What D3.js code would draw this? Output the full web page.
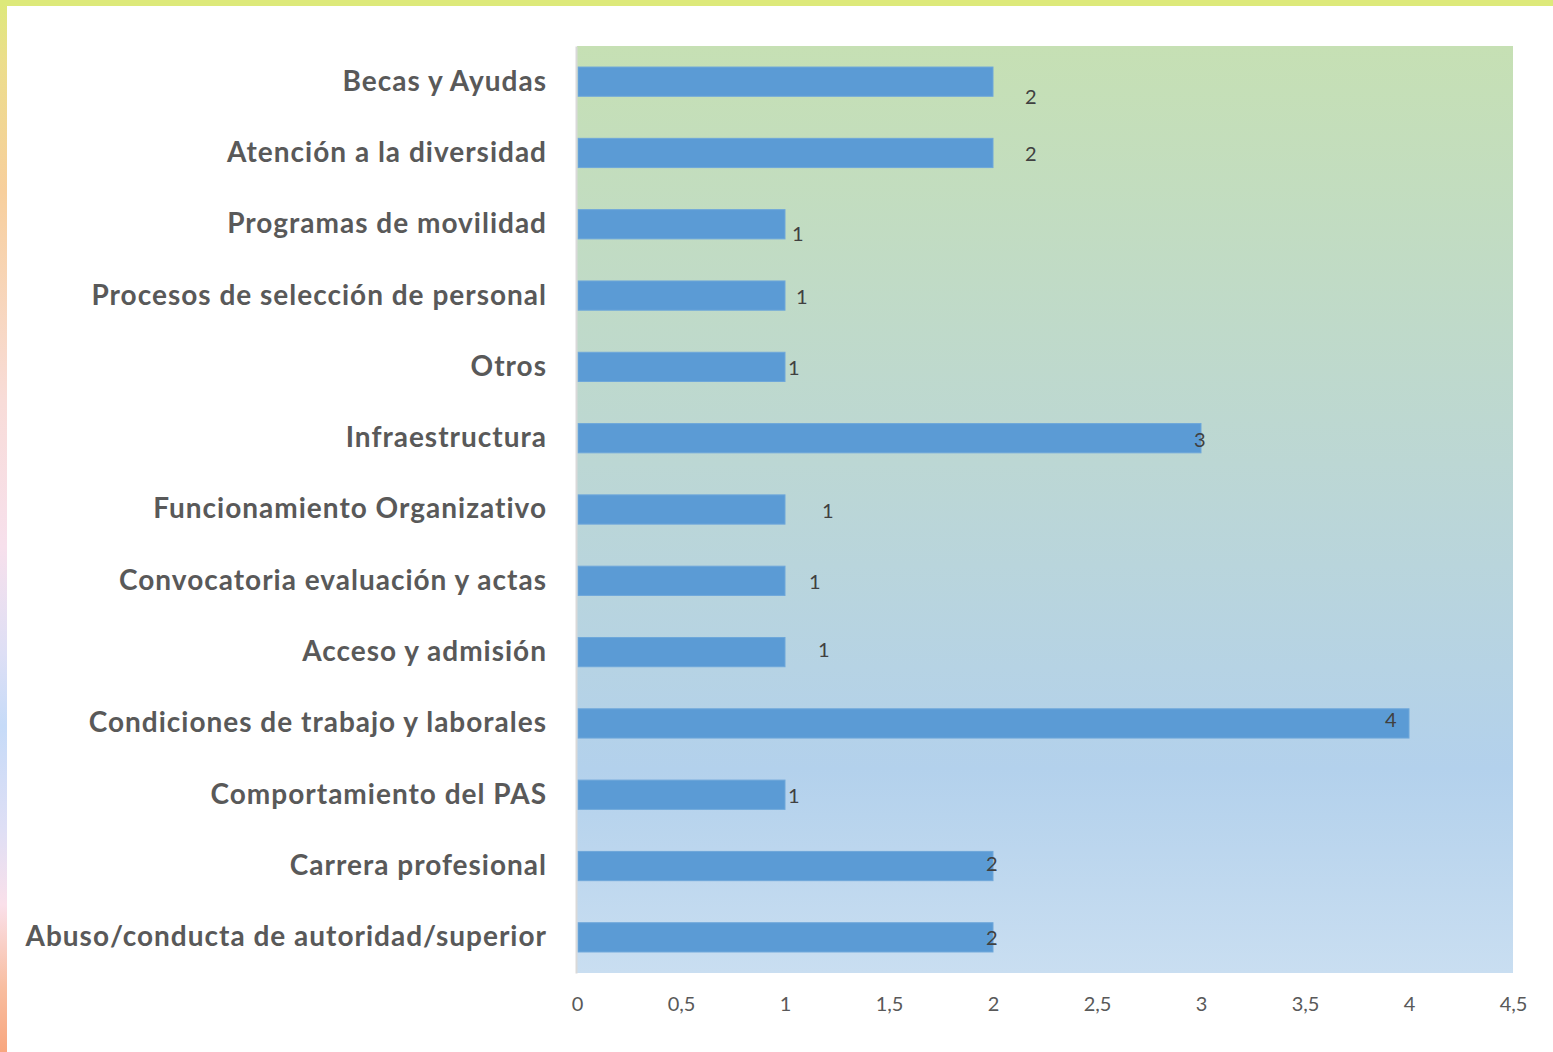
<!DOCTYPE html>
<html>
<head>
<meta charset="utf-8">
<script src="https://cdn.jsdelivr.net/npm/d3@7"></script>
<style>
  html, body { margin: 0; padding: 0; background: #ffffff; }
  svg { display: block; }
</style>
</head>
<body>
<svg id="chart" width="1553" height="1052"></svg>
<script>
// Categories, top to bottom
const categories = [
  "Becas y Ayudas",
  "Atención a la diversidad",
  "Programas de movilidad",
  "Procesos de selección de personal",
  "Otros",
  "Infraestructura",
  "Funcionamiento Organizativo",
  "Convocatoria evaluación y actas",
  "Acceso y admisión",
  "Condiciones de trabajo y laborales",
  "Comportamiento del PAS",
  "Carrera profesional",
  "Abuso/conducta de autoridad/superior"
];
const values = [2, 2, 1, 1, 1, 3, 1, 1, 1, 4, 1, 2, 2];
const tickValues = [0, 0.5, 1, 1.5, 2, 2.5, 3, 3.5, 4, 4.5];

// Hand-placed data label nudges (px from bar end / bar centre)
const labelDx = [32, 32, 7, 11, 3, -7, 37, 24, 33, -24, 3, -7, -7];
const labelDy = [15, 1, 10, 1, 1, 2, 1, 1, -2, -3, 1, -2, 1];

const svg = d3.select("#chart");
const W = 1553, H = 1052;
const plot = { left: 577, right: 1513, top: 46, bottom: 973 };

const defs = svg.append("defs");

// Plot area background gradient (green at top to light blue at bottom)
const bg = defs.append("linearGradient")
  .attr("id", "plotBg").attr("x1", 0).attr("y1", 0).attr("x2", 0).attr("y2", 1);
[[0, "#c6e0b4"], [0.45, "#bcd7d4"], [0.78, "#b3d1ec"], [1, "#c9def1"]]
  .forEach(([o, c]) => bg.append("stop").attr("offset", o).attr("stop-color", c));

// Left frame strip gradient
const side = defs.append("linearGradient")
  .attr("id", "sideBg").attr("x1", 0).attr("y1", 0).attr("x2", 0).attr("y2", 1);
[[0, "#dde97a"], [0.06, "#ecdd8c"], [0.18, "#f7cf9c"], [0.38, "#f8dcd8"],
 [0.52, "#f7e0ec"], [0.62, "#dedff5"], [0.69, "#c6dbf8"], [0.79, "#dfdff5"],
 [0.86, "#fae0ea"], [0.94, "#f8bd9f"], [1, "#f8a67f"]]
  .forEach(([o, c]) => side.append("stop").attr("offset", o).attr("stop-color", c));

// Frame
svg.append("rect").attr("x", 0).attr("y", 0).attr("width", 7).attr("height", H)
  .attr("fill", "url(#sideBg)");
svg.append("rect").attr("x", 0).attr("y", 0).attr("width", W).attr("height", 6)
  .attr("fill", "#dde97a");

// Scales
const x = d3.scaleLinear().domain([0, 4.5]).range([plot.left, plot.right]);
const y = d3.scaleBand().domain(categories).range([plot.top, plot.bottom])
  .paddingInner(0.59).paddingOuter(0.295);

// Plot background
svg.append("rect")
  .attr("x", plot.left).attr("y", plot.top)
  .attr("width", plot.right - plot.left).attr("height", plot.bottom - plot.top)
  .attr("fill", "url(#plotBg)");

// Bars
svg.append("g").selectAll("rect")
  .data(categories)
  .join("rect")
  .attr("x", x(0) + 1)
  .attr("y", d => y(d))
  .attr("width", (d, i) => x(values[i]) - x(0) - 1)
  .attr("height", y.bandwidth())
  .attr("fill", "#5b9bd5")
  .attr("stroke", "#6ea7da")
  .attr("stroke-width", 1);

// Category axis
const yAxis = svg.append("g")
  .attr("transform", `translate(${plot.left},0)`)
  .call(d3.axisLeft(y).tickSize(0).tickPadding(30));
yAxis.select(".domain").attr("stroke", "#d9d9d9").attr("stroke-width", 2)
  .attr("transform", "translate(-1,0)");
yAxis.selectAll("text")
  .attr("font-family", "Lato, 'Open Sans', sans-serif")
  .attr("font-weight", "bold")
  .attr("font-size", 28)
  .attr("letter-spacing", "1px")
  .attr("fill", "#595959")
  .attr("dy", "0.32em");

// Value axis
const xAxis = svg.append("g")
  .attr("transform", `translate(0,${plot.bottom})`)
  .call(d3.axisBottom(x).tickValues(tickValues).tickSize(0).tickPadding(24)
    .tickFormat(d => String(d).replace(".", ",")));
xAxis.select(".domain").remove();
xAxis.selectAll("text")
  .attr("font-family", "Lato, 'Open Sans', sans-serif")
  .attr("font-size", 20)
  .attr("fill", "#595959");

// Data labels
svg.append("g").selectAll("text")
  .data(categories)
  .join("text")
  .attr("x", (d, i) => x(values[i]) + labelDx[i])
  .attr("y", (d, i) => y(d) + y.bandwidth() / 2 + labelDy[i])
  .attr("dy", "0.35em")
  .attr("font-family", "Lato, 'Open Sans', sans-serif")
  .attr("font-size", 20)
  .attr("fill", "#404040")
  .text((d, i) => values[i]);
</script>
</body>
</html>
